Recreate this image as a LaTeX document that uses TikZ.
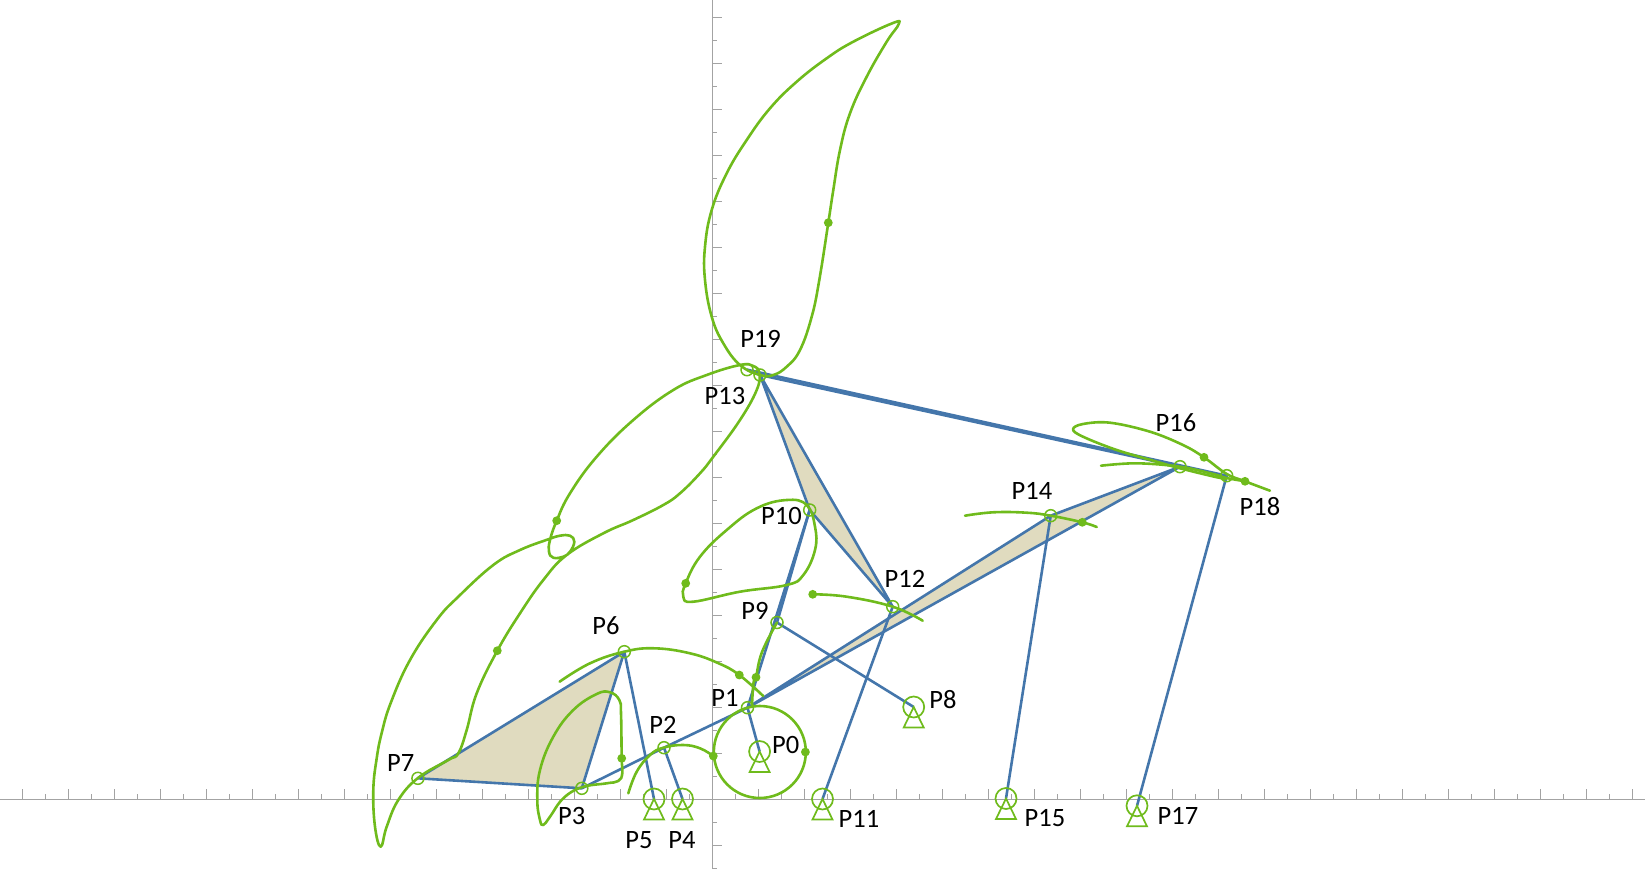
\documentclass[tikz,border=0pt]{standalone}
\usepackage{fontspec}
\setmainfont{Carlito}
\definecolor{lnk}{HTML}{4476AB}
\definecolor{trc}{HTML}{6FBB1C}
\definecolor{bei}{HTML}{E0DBBF}
\definecolor{axc}{HTML}{A3A3A3}
\tikzset{
 link/.style={draw=lnk,line width=2.6pt,line join=round},
 plate/.style={fill=bei,draw=lnk,line width=2.6pt,line join=round},
 trace/.style={draw=trc,line width=2.6pt,line join=round,line cap=round},
 joint/.style={circle,draw=trc,line width=1.5pt,minimum size=12pt,inner sep=0pt},
 groundj/.style={circle,draw=trc,line width=1.7pt,minimum size=21pt,inner sep=0pt},
 gtri/.style={draw=trc,line width=1.7pt,line join=miter},
 tdot/.style={circle,fill=trc,minimum size=8.8pt,inner sep=0pt},
 lab/.style={inner sep=0pt,font=\fontsize{26.5}{30}\selectfont,text=black},
 axs/.style={draw=axc,line width=0.9pt}
}
\begin{document}
\begin{tikzpicture}[x=1pt,y=-1pt]
\useasboundingbox (0,0) rectangle (1645,869);
% axes
\draw[axs] (0,799) -- (1645,799);
\draw[axs] (712.3,0) -- (712.3,868);
\foreach \k in {-30,...,40}{
  \pgfmathsetmacro{\xx}{712.3+23*\k}
  \ifodd\k \draw[axs] (\xx,799) -- ++(0,-5); \else \draw[axs] (\xx,799) -- ++(0,-10); \fi
}
\foreach \k in {-3,...,34}{
  \pgfmathsetmacro{\yy}{799-23*\k}
  \ifodd\k \draw[axs] (712.3,\yy) -- ++(5,0); \else \draw[axs] (712.3,\yy) -- ++(10,0); \fi
}
% joints positions
\coordinate (c0) at (759.6,751.5);
\coordinate (c1) at (747.5,707.7);
\coordinate (c2) at (664,747.7);
\coordinate (c3) at (581.8,788.3);
\coordinate (c4) at (682.5,799);
\coordinate (c5) at (654,799);
\coordinate (c6) at (624.3,651.7);
\coordinate (c7) at (417.9,778.3);
\coordinate (c8) at (913.7,707);
\coordinate (c9) at (777,622.5);
\coordinate (c10) at (809.7,510);
\coordinate (c11) at (822.5,799);
\coordinate (c12) at (892.7,606.7);
\coordinate (c13) at (760,375);
\coordinate (c14) at (1050.7,515.7);
\coordinate (c15) at (1006,798.5);
\coordinate (c16) at (1180,466.7);
\coordinate (c17) at (1137,805.8);
\coordinate (c18) at (1226.7,475.7);
\coordinate (c19) at (747,369.7);
% plates
\draw[plate] (c3) -- (c6) -- (c7) -- cycle;
\draw[plate] (c10) -- (c12) -- (c13) -- cycle;
\draw[plate] (c1) -- (c14) -- (c16) -- cycle;
% links
\draw[link] (c0) -- (c1);
\draw[link] (c3) -- (c2);
\draw[link] (c2) -- (c1);
\draw[link] (c2) -- (c4);
\draw[link] (c6) -- (c5);
\draw[link] (c1) -- (c10);
\draw[link] (c9) -- (c10);
\draw[link] (c9) -- (c8);
\draw[link] (c12) -- (c11);
\draw[link] (c14) -- (c15);
\draw[link] (c13) -- (c16);
\draw[link] (c19) -- (c18);
\draw[link] (c19) -- (c13);
\draw[link] (c18) -- (c17);
% traces
\draw[trace] (759.8,752) circle (46);
\draw[trace] plot[smooth,tension=0.7] coordinates {(628.3,793.3)(636.7,771.7)(650,755)(663.3,747.7)(683.3,745)(700,748.3)(713.3,756)};
\draw[trace] plot[smooth,tension=0.7] coordinates {(559.6,681.7)(590,663.3)(624.3,651.7)(654.3,648.3)(690,653.3)(718.6,663.3)(739.3,675)(763.2,696)};
\draw[trace] plot[smooth,tension=0.7] coordinates {(752,705)(753.5,683)(756,677)(762,652)(777,622.5)};
\draw[trace] plot[smooth cycle,tension=0.7] coordinates {(685.7,583.3)(700,556.7)(726.7,530)(756.7,508.3)(786.7,500)(806.7,505)(815,526.7)(815,550)(803.3,575)(786.7,585)(740,591.7)(693.3,601.7)(683.3,596.7)};
\draw[trace] plot[smooth,tension=0.7] coordinates {(812.7,594.3)(846.7,596.7)(892.7,606.7)(922.7,620.7)};
\draw[trace] plot[smooth,tension=0.7] coordinates {(965,515.7)(993.3,512.3)(1026.7,512.7)(1050.7,515.7)(1082.3,522.3)(1096.7,527)};
\draw[trace] plot[smooth,tension=0.6] coordinates {(1101,465.7)(1136.7,463.3)(1180,466.7)(1213,474)(1226.7,478)(1245,481.3)};
\draw[trace] plot[smooth,tension=0.6] coordinates {(1270,490.7)(1245,481.3)(1226.7,474)(1204,457.3)(1183,445)(1150,431.7)(1110,422.7)(1083,424)(1073,429.3)(1083,436.7)(1116.7,450)(1156.7,461.7)(1180,468.3)(1217,477.3)(1226.7,478.7)};
\draw[trace] plot[smooth cycle,tension=0.7] coordinates {(828.3,222.7)(833.3,190)(840,150)(850,113.3)(866.7,76.7)(886.7,41.7)(898.5,24.5)(893,23)(853.3,41.7)(826.7,58.3)(796.7,81.7)(770,108.3)(746.7,140)(726.7,173.3)(711.7,210)(705,246.7)(705,280)(711.7,316.7)(723.3,343.3)(740,365)(760,375)(773.3,375)(786.7,366.7)(800,350)(811.7,316.7)(819.3,280)};
\draw[trace] plot[smooth cycle,tension=0.7] coordinates {(556.7,520.7)(550,540)(549,551.7)(553.3,557.7)(563.3,556.7)(570,551.7)(574.3,541.7)(570,535.7)(560,535.7)(548.3,539.3)(520,550)(493.3,565)(458.3,596.7)(436.7,620)(410,660)(390.7,703)(381.7,733)(376.7,758.3)(373.3,790)(375,826.7)(380.7,846.7)(386.7,826.7)(398.3,800)(418.3,777.7)(448.3,760)(458.3,753.3)(466.7,730)(476.7,693.3)(497.3,650.7)(520,613.3)(543.3,580)(566.7,555)(603.3,533.3)(633.3,520)(663.3,505)(680,493.3)(700,473.3)(713.3,456.7)(740,420)(756.7,390)(759.3,373.3)(753.3,366)(740,365)(706.7,375)(673.3,390)(633.3,420)(596.7,456.7)(570,493.3)};
\draw[trace] plot[smooth cycle,tension=0.7] coordinates {(621.7,758.3)(621,713.3)(619.3,700)(610,692.3)(596.7,694)(573.3,710)(553.3,736.7)(540,770)(537.3,800)(540,820)(543.3,825)(550,816.7)(563.3,798.3)(581.7,787.3)(606.7,783.3)(618.3,781)(622.3,773.3)};
% trace dots
\node[tdot] (d0) at (805.4,752) {};
\node[tdot] (d2) at (713.3,756) {};
\node[tdot] (d6) at (739.3,675) {};
\node[tdot] (d9) at (756,677.3) {};
\node[tdot] (d10) at (685.7,583.3) {};
\node[tdot] (d12) at (812.7,594.3) {};
\node[tdot] (d14) at (1082.3,522.3) {};
\node[tdot] (d16) at (1204,457.3) {};
\node[tdot] (d18) at (1245,481.3) {};
\node[tdot] (d13) at (828.3,222.7) {};
\node[tdot] (d19) at (556.7,520.7) {};
\node[tdot] (d7) at (497.3,650.7) {};
\node[tdot] (d3) at (621.7,758.3) {};
% moving joints
\foreach \n in {1,2,3,6,7,9,10,12,13,14,16,18,19}{ \node[joint] (P\n) at (c\n) {}; }
% ground joints
\foreach \n in {0,4,5,8,11,15,17}{
  \node[groundj] (P\n) at (c\n) {};
  \draw[gtri] (P\n.center) -- ++(10,20.5) -- ++(-20,0) -- cycle;
}
% labels
\node[lab] (L0) at (785.7,745) {P0};
\node[lab] (L1) at (725,697.6) {P1};
\node[lab] (L2) at (663,725) {P2};
\node[lab] (L3) at (571.7,816) {P3};
\node[lab] (L4) at (682,840) {P4};
\node[lab] (L5) at (639,840) {P5};
\node[lab] (L6) at (606,626) {P6};
\node[lab] (L7) at (400.7,762.6) {P7};
\node[lab] (L8) at (943,700) {P8};
\node[lab] (L9) at (755,610.5) {P9};
\node[lab] (L10) at (781.5,516) {P10};
\node[lab] (L11) at (859,819) {P11};
\node[lab] (L12) at (905,579) {P12};
\node[lab] (L13) at (725,395.5) {P13};
\node[lab] (L14) at (1032,491) {P14};
\node[lab] (L15) at (1045,818) {P15};
\node[lab] (L16) at (1176,423) {P16};
\node[lab] (L17) at (1178,816) {P17};
\node[lab] (L18) at (1260,507) {P18};
\node[lab] (L19) at (760.6,339) {P19};
\end{tikzpicture}
\end{document}
